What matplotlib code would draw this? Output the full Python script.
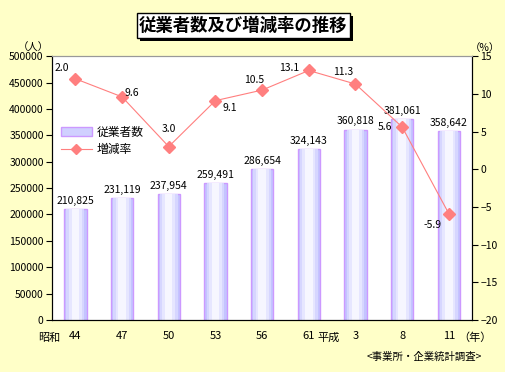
import matplotlib.pyplot as plt
import numpy as np

plt.rcParams['font.family'] = ['Noto Sans CJK JP', 'DejaVu Sans']

years = ['44', '47', '50', '53', '56', '61', '3', '8', '11']
workers = [210825, 231119, 237954, 259491, 286654, 324143, 360818, 381061, 358642]
rate = [12.0, 9.6, 3.0, 9.1, 10.5, 13.1, 11.3, 5.6, -5.9]
rate_labels = ['2.0', '9.6', '3.0', '9.1', '10.5', '13.1', '11.3', '5.6', '-5.9']
# offsets (points) for the rate labels
rate_offsets = [(-10, 8), (7, 3), (0, 13), (10, -5), (-6, 7), (-14, 2), (-9, 9), (-12, 0), (-12, -8)]

bg = '#FFFFC8'
line_c = '#FF7F7F'

fig = plt.figure(figsize=(5.05, 3.72), dpi=100, facecolor=bg)
ax = fig.add_axes([0.103, 0.140, 0.832, 0.709])
ax.set_facecolor('white')
x = np.arange(len(years))

# bars with a soft gradient: wide lavender, narrower lighter layers
ax.bar(x, workers, width=0.48, color='#C4C4FF', edgecolor='#CC99FF', linewidth=1, zorder=2)
for w, c in [(0.38, '#D6D6FF'), (0.28, '#E6E6FF'), (0.16, '#F6F6FF')]:
    ax.bar(x, workers, width=w, color=c, linewidth=0, zorder=2)
for xi, v in zip(x, workers):
    ax.text(xi, v + 6000, f'{v:,}', ha='center', va='bottom', fontsize=7.5)

ax.set_xlim(-0.5, len(years) - 0.5)
ax.set_ylim(0, 500000)
ax.set_yticks(np.arange(0, 500001, 50000))
ax.tick_params(axis='y', direction='out', length=4, labelsize=7.5, pad=2)
ax.set_xticks(x)
ax.set_xticklabels(years, fontsize=8)
ax.tick_params(axis='x', length=0, pad=8)
ax.spines['top'].set_color('#999999')

ax2 = ax.twinx()
ax2.plot(x, rate, color=line_c, linewidth=0.8, marker='D', markersize=6, zorder=3)
ax2.set_ylim(-20, 15)
ax2.set_yticks(np.arange(-20, 16, 5))
ax2.tick_params(axis='y', direction='out', length=4, labelsize=7.5, pad=2)
ax2.spines['top'].set_color('#999999')
for xi, v, t, off in zip(x, rate, rate_labels, rate_offsets):
    ax2.annotate(t, (xi, v), xytext=off, textcoords='offset points',
                 ha='center', va='center', fontsize=7.5)

# legend
h1 = plt.Rectangle((0, 0), 1, 1, fc='#D0D0FF', ec='#CC99FF')
h2, = ax2.plot([], [], color=line_c, marker='D', markersize=5, linewidth=0.8)
ax2.legend([h1, h2], ['従業者数', '増減率'], loc='upper left', bbox_to_anchor=(0.01, 0.755),
           frameon=False, fontsize=8.5, handlelength=2.6, handletextpad=0.4,
           labelspacing=0.35, borderaxespad=0)

# axis unit labels and era labels
fig.text(0.035, 0.872, '（人）', fontsize=7.5, va='center')
fig.text(0.99, 0.872, '（%）', fontsize=7.5, va='center', ha='right')
fig.text(0.075, 0.092, '昭和', fontsize=8, va='center')
fig.text(0.628, 0.092, '平成', fontsize=8, va='center')
fig.text(0.908, 0.092, '（年）', fontsize=8, va='center')
fig.text(0.955, 0.040, '<事業所・企業統計調査>', fontsize=7.5, ha='right', va='center')

# title box with shadow
fig.patches.append(plt.Rectangle((0.277, 0.890), 0.422, 0.067, transform=fig.transFigure,
                                 fc='black', ec='none'))
fig.patches.append(plt.Rectangle((0.271, 0.898), 0.422, 0.067, transform=fig.transFigure,
                                 fc='white', ec='black', lw=1))
fig.text(0.482, 0.931, '従業者数及び増減率の推移', fontsize=12.5, fontweight='bold',
         ha='center', va='center')

fig.savefig('out.png', dpi=100, facecolor=bg)
